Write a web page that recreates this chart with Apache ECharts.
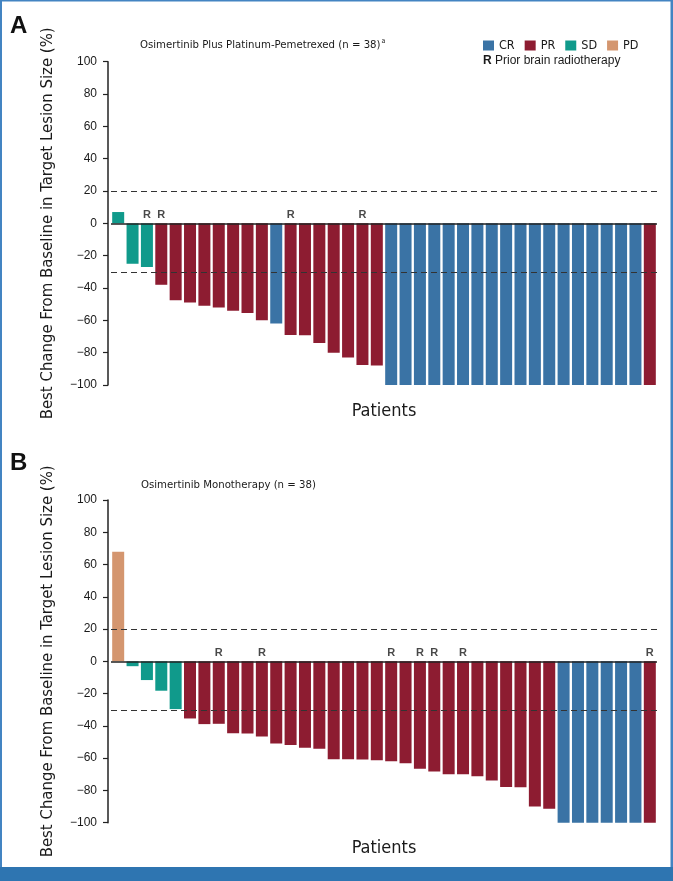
<!DOCTYPE html>
<html>
<head>
<meta charset="utf-8">
<script src="https://cdn.jsdelivr.net/npm/echarts@6/dist/echarts.min.js"></script>
<style>
  html, body { margin: 0; padding: 0; background: #fff; }
  #chart { width: 673px; height: 881px; }
</style>
</head>
<body>
<div id="chart"></div>
<script>
// ---------------- DATA ----------------
const patients = Array.from({ length: 38 }, (_, i) => 'P' + (i + 1));

// Panel A: Osimertinib Plus Platinum-Pemetrexed
const valuesA = [7, -25, -27, -38, -47.5, -49, -51, -52, -54, -55.5, -60, -62, -69, -69.3, -74, -80, -83, -87.7, -88,
  -100, -100, -100, -100, -100, -100, -100, -100, -100, -100, -100, -100, -100, -100, -100, -100, -100, -100,
  -100];
const responseA = ['SD', 'SD', 'SD', 'PR', 'PR', 'PR', 'PR', 'PR', 'PR', 'PR', 'PR', 'CR', 'PR', 'PR', 'PR', 'PR', 'PR', 'PR', 'PR',
  'CR', 'CR', 'CR', 'CR', 'CR', 'CR', 'CR', 'CR', 'CR', 'CR', 'CR', 'CR', 'CR', 'CR', 'CR', 'CR', 'CR', 'CR',
  'PR'];
const priorRT_A = [3, 4, 13, 18];

// Panel B: Osimertinib Monotherapy
const valuesB = [68, -3, -11.6, -18.2, -29.6, -35.4, -38.9, -38.7, -44.5, -44.7, -46.6, -50.9, -51.8, -53.6, -54.2,
  -60.7, -60.7, -60.9, -61.3, -61.9, -63.1, -66.5, -68.3, -70, -70, -71.2, -73.9, -77.8, -78, -90, -91.3,
  -100, -100, -100, -100, -100, -100, -100];
const responseB = ['PD', 'SD', 'SD', 'SD', 'SD', 'PR', 'PR', 'PR', 'PR', 'PR', 'PR', 'PR', 'PR', 'PR', 'PR',
  'PR', 'PR', 'PR', 'PR', 'PR', 'PR', 'PR', 'PR', 'PR', 'PR', 'PR', 'PR', 'PR', 'PR', 'PR', 'PR',
  'CR', 'CR', 'CR', 'CR', 'CR', 'CR', 'PR'];
const priorRT_B = [8, 11, 20, 22, 23, 25, 38];

const responseCats = ['CR', 'PR', 'SD', 'PD'];
const yTicks = { min: -100, max: 100, interval: 20 };
const refLines = { upper: 20, lower: -30 };

// ---------------- STYLE ----------------
const colors = { CR: '#3a73a5', PR: '#8d1c31', SD: '#109a8b', PD: '#d4966f' };
const narrow = "'Liberation Sans Narrow', 'DejaVu Sans Condensed', 'Liberation Sans', sans-serif";
const regular = "'Liberation Sans', Arial, sans-serif";
const ink = '#1a1a1a';

function barSeries(values, resp, idx) {
  return responseCats.map(cat => ({
    name: cat,
    type: 'bar',
    xAxisIndex: idx, yAxisIndex: idx,
    stack: 'panel' + idx,
    barWidth: 12,
    itemStyle: { color: colors[cat] },
    data: values.map((v, i) => resp[i] === cat ? v : '-'),
    silent: true
  }));
}

function rSeries(prior, idx) {
  return {
    type: 'scatter',
    xAxisIndex: idx, yAxisIndex: idx,
    symbol: 'circle', symbolSize: 0.1,
    itemStyle: { color: 'rgba(0,0,0,0)' },
    silent: true,
    z: 5,
    label: {
      show: true, formatter: 'R', position: 'top', distance: 3,
      fontFamily: regular, fontWeight: 'bold', fontSize: 11, color: ink
    },
    data: patients.map((p, i) => prior.includes(i + 1) ? 0 : '-'),
    markLine: {
      silent: true, symbol: 'none', label: { show: false },
      animation: false,
      data: [
        { yAxis: 0, lineStyle: { type: 'solid', color: '#222', width: 1.5 } },
        { yAxis: refLines.upper, lineStyle: { type: [6, 4], color: '#333', width: 1.2 } },
        { yAxis: refLines.lower, lineStyle: { type: [6, 4], color: '#333', width: 1.2 } }
      ]
    }
  };
}

function xAxisDef(idx) {
  return {
    type: 'category', gridIndex: idx, data: patients,
    axisLine: { show: false, onZero: false }, axisTick: { show: false }, axisLabel: { show: false },
    name: 'Patients', nameLocation: 'middle', nameGap: 17,
    nameTextStyle: { fontFamily: narrow, fontSize: 18, color: ink }
  };
}

function yAxisDef(idx) {
  return {
    type: 'value', gridIndex: idx, offset: 3,
    min: yTicks.min, max: yTicks.max, interval: yTicks.interval,
    splitLine: { show: false },
    axisLine: { show: true, lineStyle: { color: '#222', width: 1.5 } },
    axisTick: { show: true, length: 5, lineStyle: { color: '#222', width: 1.2 } },
    axisLabel: {
      fontFamily: regular, fontSize: 12, color: ink, margin: 11,
      formatter: v => String(v).replace('-', '\u2212')
    },
    name: 'Best Change From Baseline in Target Lesion Size (%)',
    nameLocation: 'middle', nameGap: 52,
    nameTextStyle: { fontFamily: narrow, fontSize: 16.6, color: ink }
  };
}

const chart = echarts.init(document.getElementById('chart'), null, { renderer: 'canvas' });
chart.setOption({
  animation: false,
  backgroundColor: '#fff',
  title: [
    { text: 'A', left: 10, top: 14, padding: 0, textStyle: { fontFamily: regular, fontWeight: 'bold', fontSize: 24, color: '#111' } },
    { text: 'B', left: 10, top: 451, padding: 0, textStyle: { fontFamily: regular, fontWeight: 'bold', fontSize: 24, color: '#111' } },
    {
      text: 'Osimertinib Plus Platinum-Pemetrexed (n = 38){sup|a}', left: 140, top: 38, padding: 0,
      textStyle: {
        fontFamily: narrow, fontSize: 11.3, fontWeight: 'normal', color: ink,
        rich: { sup: { fontFamily: narrow, fontSize: 7, color: ink, padding: [0, 0, 7, 1] } }
      }
    },
    {
      text: 'Osimertinib Monotherapy (n = 38)', left: 141, top: 480, padding: 0,
      textStyle: { fontFamily: narrow, fontSize: 11.3, fontWeight: 'normal', color: ink }
    },
    {
      text: '{b|R} Prior brain radiotherapy', left: 483, top: 55, padding: 0,
      textStyle: {
        fontFamily: regular, fontSize: 12, fontWeight: 'normal', color: ink,
        rich: { b: { fontFamily: regular, fontSize: 12, fontWeight: 'bold', color: ink } }
      }
    }
  ],
  legend: {
    data: responseCats, left: 483, top: 39, icon: 'rect', padding: 0,
    itemWidth: 11, itemHeight: 10, itemGap: 10, selectedMode: false,
    textStyle: { fontFamily: narrow, fontSize: 12.5, color: ink }
  },
  grid: [
    { left: 111, right: 16, top: 61.7, bottom: 496 },
    { left: 111, right: 16, top: 500, bottom: 58.3 }
  ],
  xAxis: [xAxisDef(0), xAxisDef(1)],
  yAxis: [yAxisDef(0), yAxisDef(1)],
  series: [
    ...barSeries(valuesA, responseA, 0),
    rSeries(priorRT_A, 0),
    ...barSeries(valuesB, responseB, 1),
    rSeries(priorRT_B, 1)
  ],
  graphic: [
    { type: 'rect', silent: true, shape: { x: 0, y: 0, width: 2, height: 881 }, style: { fill: '#4384c2' } },
    { type: 'rect', silent: true, shape: { x: 0, y: 0, width: 673, height: 1.5 }, style: { fill: '#4384c2' } },
    { type: 'rect', silent: true, shape: { x: 670.5, y: 0, width: 2.5, height: 881 }, style: { fill: '#4384c2' } },
    { type: 'rect', silent: true, shape: { x: 0, y: 867, width: 673, height: 14 }, style: { fill: '#2e75b1' } }
  ]
});
</script>
</body>
</html>
